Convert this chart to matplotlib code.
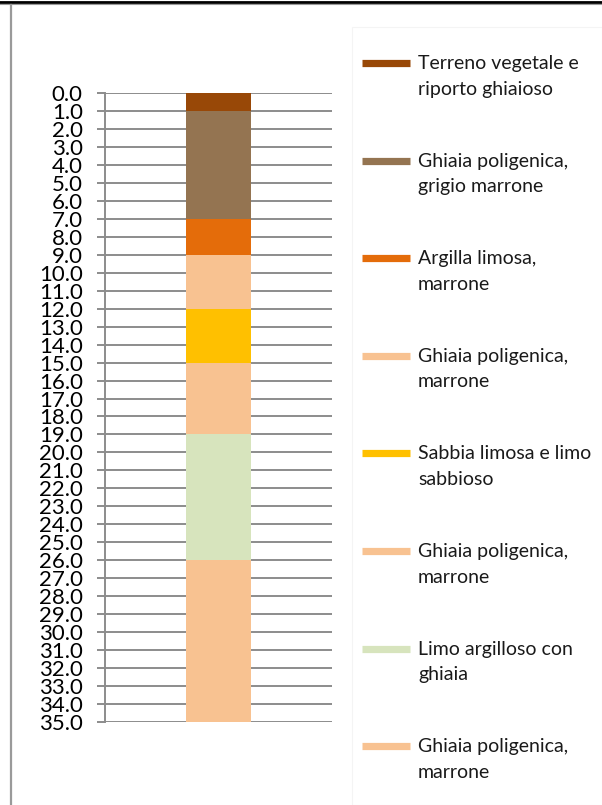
import matplotlib
matplotlib.use("Agg")
import matplotlib.pyplot as plt
from matplotlib.lines import Line2D
from matplotlib.patches import Rectangle
import numpy as np

# Stratigraphic column: layer names, top/bottom depths (m) and colours
layers = [
    "Terreno vegetale e\nriporto ghiaioso",
    "Ghiaia poligenica,\ngrigio marrone",
    "Argilla limosa,\nmarrone",
    "Ghiaia poligenica,\nmarrone",
    "Sabbia limosa e limo\nsabbioso",
    "Ghiaia poligenica,\nmarrone",
    "Limo argilloso con\nghiaia",
    "Ghiaia poligenica,\nmarrone",
]
tops = [0.0, 1.0, 7.0, 9.0, 12.0, 15.0, 19.0, 26.0]
thickness = [1.0, 6.0, 2.0, 3.0, 3.0, 4.0, 7.0, 9.0]
colors = ["#984807", "#947451", "#E46C0A", "#F8C291",
          "#FFC000", "#F8C291", "#D7E4BD", "#F8C291"]
depth_ticks = np.arange(0, 36, 1)

W, H = 602, 805
fig = plt.figure(figsize=(W / 100, H / 100), dpi=100)
plt.rcParams["font.family"] = ["Lato", "DejaVu Sans"]


def fx(px):
    return px / W


def fy(py):
    return 1 - py / H


# page frame lines
fig.add_artist(Line2D([0, 1], [fy(2), fy(2)], color="black", lw=2.0))
fig.add_artist(Line2D([0, 1], [fy(4), fy(4)], color="#9a9a9a", lw=0.8))
fig.add_artist(Line2D([fx(10.5), fx(10.5)], [fy(5), 0], color="#9a9a9a", lw=1.6))

ax_l, ax_r, ax_t, ax_b = 105, 332, 93, 722
ax = fig.add_axes([fx(ax_l), fy(ax_b), fx(ax_r - ax_l), (ax_b - ax_t) / H])

for top, th, c in zip(tops, thickness, colors):
    ax.bar(0.5, th, bottom=top, width=0.29, color=c, zorder=3)

ax.set_xlim(0, 1)
ax.set_ylim(35, 0)
ax.set_yticks(depth_ticks)
ax.set_yticklabels([f"{v:.1f}" for v in depth_ticks], fontsize=16)
ax.set_xticks([])
ax.yaxis.grid(True, color="#8c8c8c", lw=1.4, zorder=1)
ax.tick_params(axis="y", direction="out", length=6, width=1.4,
               color="#8c8c8c", pad=10)
for s in ["top", "right", "bottom"]:
    ax.spines[s].set_visible(False)
ax.spines["left"].set_color("#8c8c8c")
ax.spines["left"].set_linewidth(1.4)
ax.set_facecolor("none")

# legend panel
fig.add_artist(Rectangle((fx(352), 0), 1 - fx(352), fy(27), transform=fig.transFigure,
                         facecolor="white", edgecolor="#f4f4f4", lw=0.8, zorder=0))

y0, step = 63, 97.6
for i, (lab, c) in enumerate(zip(layers, colors)):
    yc = y0 + step * i
    fig.add_artist(Line2D([fx(362), fx(410)], [fy(yc), fy(yc)], color=c, lw=5.2,
                          solid_capstyle="butt"))
    fig.text(fx(418), fy(yc - 8), lab, fontsize=14, va="top", ha="left",
             linespacing=1.62, color="#1a1a1a")

fig.savefig("out.png", dpi=100)
